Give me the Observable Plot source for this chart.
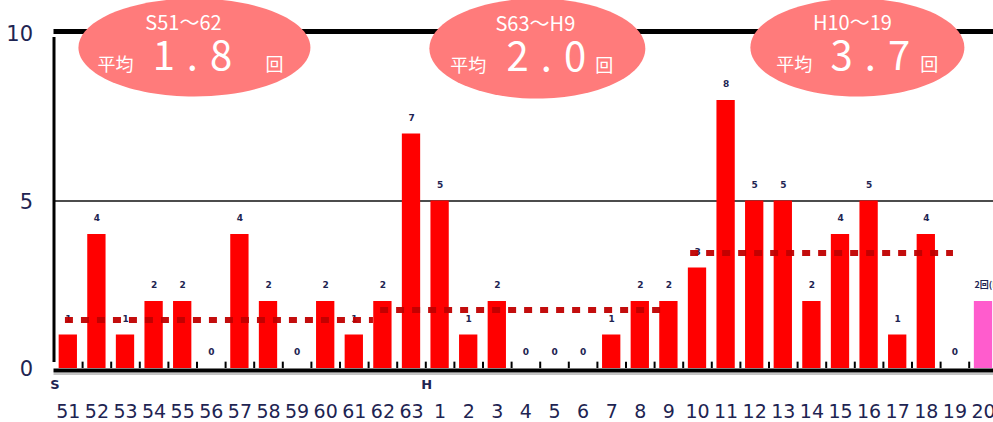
<!DOCTYPE html>
<html><head><meta charset="utf-8">
<script src="https://cdn.jsdelivr.net/npm/d3@7"></script>
<script src="https://cdn.jsdelivr.net/npm/@observablehq/plot@0.6"></script>
<style>
html,body{margin:0;padding:0;background:#fff;overflow:hidden;}
</style></head><body><div id="chart"></div>
<script>
// ---- data ----
const categories = ["S51","S52","S53","S54","S55","S56","S57","S58","S59","S60","S61","S62","S63",
  "H1","H2","H3","H4","H5","H6","H7","H8","H9","H10","H11","H12","H13","H14","H15","H16","H17","H18","H19","H20"];
const tickLabels = ["51","52","53","54","55","56","57","58","59","60","61","62","63",
  "1","2","3","4","5","6","7","8","9","10","11","12","13","14","15","16","17","18","19","20"];
const counts = [1,4,1,2,2,0,4,2,0,2,1,2,7,
  5,1,2,0,0,0,1,2,2,3,8,5,5,2,4,5,1,4,0,2];
const partialYear = "H20";
const partialLabel = "2回(H20)";
const eraStarts = ["S51","H1"];
const eraLabels = ["S","H"];
const yTicks = [0,5,10];
const periodLabels = ["S51～62","S63～H9","H10～19"];
const periodAverages = ["1.8","2.0","3.7"];
const avgLineLevels = [1.45, 1.75, 3.45];   // where the dotted lines are drawn
const avgLineFrom = [-0.1, 10.92, 21.76];   // category index units
const avgLineTo = [10.67, 20.95, 30.95];

// ---- layout (not data) ----
const X0 = 53.5, STEP = 28.6;
const bubbleLayout = [
  {x: 4.41, y: 9.58, rx: 116, ry: 49, dxTitle: -11, dxLead: -79, dxAvg: 4, dxUnit: 80},
  {x: 16.4, y: 9.55, rx: 108, ry: 50, dxTitle: -2, dxLead: -69, dxAvg: 15, dxUnit: 67},
  {x: 27.59, y: 9.58, rx: 107, ry: 49, dxTitle: -5, dxLead: -63, dxAvg: 19, dxUnit: 72}
];

const data = categories.map((c, i) => ({
  i, cat: c, tick: tickLabels[i], value: counts[i],
  label: c === partialYear ? partialLabel : String(counts[i])
}));
const boundaries = d3.range(categories.length - 1).map(i => i + 0.5);
const eras = eraStarts.map((c, k) => ({x: categories.indexOf(c) - 0.5, label: eraLabels[k]}));
const avgs = periodLabels.map((p, k) => ({x1: avgLineFrom[k], x2: avgLineTo[k], y: avgLineLevels[k]}));

function ellipseSymbol(rx, ry) {
  const k = 0.5523;
  return {draw(ctx) {
    ctx.moveTo(rx, 0);
    ctx.bezierCurveTo(rx, ry * k, rx * k, ry, 0, ry);
    ctx.bezierCurveTo(-rx * k, ry, -rx, ry * k, -rx, 0);
    ctx.bezierCurveTo(-rx, -ry * k, -rx * k, -ry, 0, -ry);
    ctx.bezierCurveTo(rx * k, -ry, rx, -ry * k, rx, 0);
    ctx.closePath();
  }};
}

const CJK = "'Noto Sans CJK JP', sans-serif";
const navy = "#1e2452";

const bubbleMarks = bubbleLayout.flatMap((b, k) => [
  Plot.dot([b], {x: "x", y: "y", symbol: ellipseSymbol(b.rx, b.ry), fill: "#ff7b7b", stroke: null}),
  Plot.text([b], {x: "x", y: "y", text: () => periodLabels[k], dx: b.dxTitle, dy: -24, fill: "white", fontSize: 20, fontFamily: CJK}),
  Plot.text([b], {x: "x", y: "y", text: () => "平均", dx: b.dxLead, dy: 18, fill: "white", fontSize: 18, fontFamily: CJK}),
  Plot.text([b], {x: "x", y: "y", text: () => periodAverages[k], dx: b.dxAvg, dy: 10, fill: "white", fontSize: 40, fontFamily: CJK}),
  Plot.text([b], {x: "x", y: "y", text: () => "回", dx: b.dxUnit, dy: 18, fill: "white", fontSize: 18, fontFamily: CJK})
]);

const chart = Plot.plot({
  width: 993,
  height: 422,
  style: {fontFamily: "'DejaVu Sans', sans-serif", background: "white", overflow: "hidden"},
  x: {type: "linear", domain: [-0.5, categories.length - 0.5], range: [X0, X0 + categories.length * STEP], axis: null},
  y: {domain: [0, 10], range: [368, 33], axis: null},
  marks: [
    Plot.ruleY([5], {x1: -0.5, x2: categories.length - 0.5, stroke: "#111", strokeWidth: 1.6}),
    Plot.rectY(data, {x1: d => d.i - 0.32, x2: d => d.i + 0.32, y: "value",
      fill: d => d.cat === partialYear ? "#ff5ccd" : "#ff0000"}),
    Plot.text(data.filter(d => d.cat !== partialYear), {x: "i", y: "value", text: "label", dy: -16, fontSize: 9, fontWeight: "bold", fill: navy}),
    Plot.text(data.filter(d => d.cat === partialYear), {x: "i", y: "value", text: "label", dy: -16, dx: -9, textAnchor: "start", fontSize: 9, fontWeight: "bold", fill: navy, fontFamily: CJK}),
    Plot.ruleY(avgs, {x1: "x1", x2: "x2", y: "y", stroke: "#c00000", strokeWidth: 6, strokeDasharray: "8,8", strokeOpacity: 0.95}),
    Plot.ruleY([10], {x1: -0.5, x2: categories.length - 0.5, stroke: "black", strokeWidth: 5, dy: -2}),
    ...bubbleMarks,
    Plot.ruleY([0], {x1: -0.5, x2: categories.length - 0.5, stroke: "black", strokeWidth: 4, dy: 2}),
    Plot.ruleY([0], {x1: -0.5, x2: categories.length - 0.5, stroke: "#888", strokeWidth: 1, dy: 5.5}),
    Plot.ruleX(boundaries, {x: d => d, y1: 0, y2: 0.19, stroke: "black", strokeWidth: 2}),
    Plot.ruleX([-0.5], {y1: 0, y2: 10, stroke: "black", strokeWidth: 3, insetTop: -6, insetBottom: -4}),
    Plot.text(yTicks, {x: -0.5, y: d => d, text: d => String(d), dx: -21, dy: 1, textAnchor: "end", fontSize: 21, fill: navy}),
    Plot.text(data, {x: "i", y: 0, text: "tick", dy: 43, fontSize: 19, fill: navy}),
    Plot.text(eras, {x: "x", y: 0, text: "label", dy: 16, dx: 1, fontSize: 13, fontWeight: "bold", fill: navy})
  ]
});

d3.select(chart).selectAll("text")
  .filter(function() { return periodAverages.includes(this.textContent); })
  .style("letter-spacing", "12px");

document.getElementById("chart").appendChild(chart);
</script></body></html>
